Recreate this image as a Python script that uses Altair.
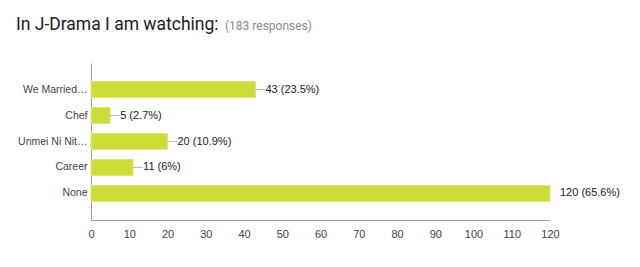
import altair as alt
import pandas as pd

categories = ["We Married…", "Chef", "Unmei Ni Nit…", "Career", "None"]
counts = [43, 5, 20, 11, 120]
percents = ["23.5%", "2.7%", "10.9%", "6%", "65.6%"]
x_ticks = [0, 10, 20, 30, 40, 50, 60, 70, 80, 90, 100, 110, 120]
title_text = "In J-Drama I am watching:"
responses_text = "(183 responses)"

df = pd.DataFrame({
    "cat": categories,
    "count": counts,
    "label": [f"{c} ({p})" for c, p in zip(counts, percents)],
})

FONT = "Liberation Sans"
FS = 11

y = alt.Y("cat:N", sort=categories, title=None,
          scale=alt.Scale(paddingInner=0.38, paddingOuter=0.71),
          axis=alt.Axis(ticks=False, domainColor="#9e9e9e", labelColor="#444444",
                        labelFont=FONT, labelFontSize=10.5, labelPadding=4, labelLimit=200))
x = alt.X("count:Q", title=None,
          scale=alt.Scale(domain=[0, 120], nice=False),
          axis=alt.Axis(values=x_ticks, grid=False, ticks=False, domainColor="#9e9e9e",
                        labelColor="#444444", labelFont=FONT, labelFontSize=FS,
                        labelPadding=8, labelFlush=False))

base = alt.Chart(df)

bars = base.mark_bar(color="#cddc39", stroke="#dde67a", strokeWidth=1).encode(x=x, y=y)
connectors = base.mark_rule(color="#bdbdbd", x2Offset=10, clip=True).encode(
    x=x, x2="count:Q", y=alt.Y("cat:N", sort=categories, title=None, bandPosition=0.5))
texts = base.mark_text(align="left", baseline="middle", dx=10, font=FONT, fontSize=FS,
                       color="#222222").encode(x=x, y=y, text="label:N")

head = pd.DataFrame({"t": [title_text], "r": [responses_text]})
title = alt.Chart(head).mark_text(
    align="left", baseline="alphabetic", font="Roboto", fontSize=17.5, color="#212121"
).encode(x=alt.value(-75), y=alt.value(-33), text="t:N")
resp = alt.Chart(head).mark_text(
    align="left", baseline="alphabetic", font="Roboto", fontSize=12, color="#8a8a8a"
).encode(x=alt.value(134), y=alt.value(-33), text="r:N")

chart = alt.layer(bars, connectors, texts, title, resp).properties(
    width=459, height=157,
    autosize=alt.AutoSizeParams(type="none"),
    padding={"left": 91, "top": 63, "right": 90, "bottom": 47},
).configure_view(stroke=None)

chart.save("out.html", embed_options={"renderer": "svg", "actions": False})
